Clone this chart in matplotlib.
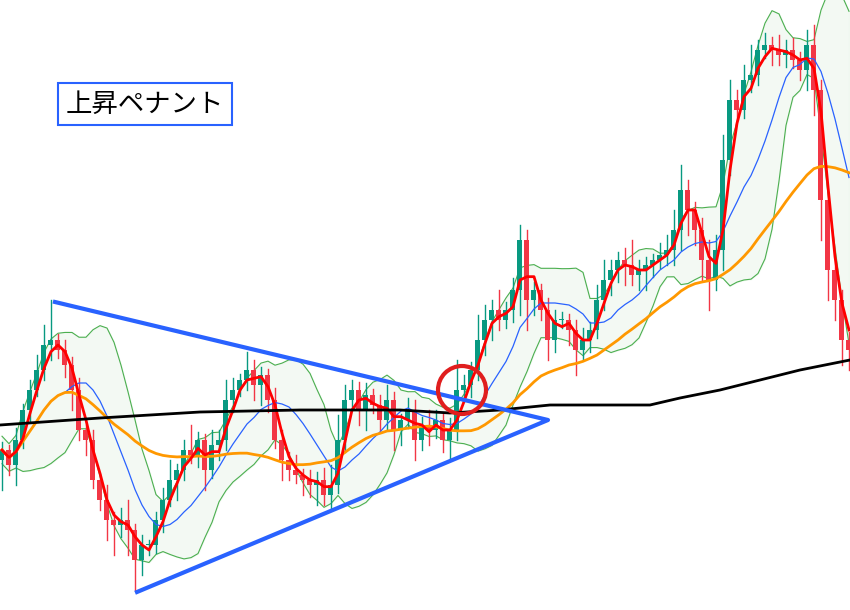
import matplotlib.pyplot as plt
import pandas as pd
from matplotlib.patches import Circle

plt.rcParams['font.family'] = ['Noto Sans CJK JP', 'DejaVu Sans']

# close levels, screen-row units (bigger = lower on screen)
close_rows = [450, 465, 440, 410, 390, 370, 345, 340, 350, 365, 390, 430, 440, 480, 500, 520, 525, 520, 530, 560,
              545, 545, 520, 500, 480, 470, 450, 455, 440, 470, 445, 440, 400, 390, 380, 370, 385, 375, 400, 440,
              460, 470, 475, 480, 485, 480, 495, 485, 440, 400, 390, 410, 395, 405, 420, 400, 430, 420, 410, 440,
              425, 430, 420, 440, 430, 390, 385, 370, 340, 320, 310, 320, 310, 290, 240, 300, 290, 310, 340, 320,
              320, 330, 350, 340, 330, 300, 280, 270, 260, 265, 275, 270, 265, 260, 255, 250, 230, 190, 210, 230,
              260, 280, 250, 160, 100, 110, 80, 75, 50, 45, 50, 55, 50, 60, 70, 45, 90, 200, 270, 300, 340, 350]
wick_up = [8, 5, 12, 6, 10, 15, 20, 40, 6, 10, 8, 12, 5, 10, 6, 15, 8, 12, 20, 6, 10, 5, 8, 12, 20, 6, 10, 25, 8, 6,
           15, 10, 20, 12, 6, 18, 10, 8, 6, 12, 10, 8, 15, 6, 10, 8, 12, 20, 25, 15, 10, 8, 12, 6, 10, 15, 8, 6, 12, 10,
           8, 15, 10, 6, 12, 30, 10, 8, 25, 15, 10, 20, 8, 12, 15, 10, 8, 6, 12, 10, 8, 6, 10, 12, 8, 15, 20, 10, 8, 12,
           25, 10, 8, 6, 12, 15, 20, 25, 10, 8, 12, 20, 15, 25, 20, 10, 15, 30, 10, 12, 8, 15, 10, 12, 8, 15, 20, 10, 8, 12,
           10, 8]
wick_dn = [30, 10, 20, 8, 12, 6, 10, 15, 8, 12, 20, 10, 15, 8, 10, 20, 30, 12, 25, 30, 15, 10, 8, 12, 6, 20, 10, 8, 12, 20,
           8, 15, 10, 12, 6, 10, 15, 20, 12, 8, 20, 10, 8, 15, 12, 20, 10, 15, 8, 12, 10, 15, 20, 8, 12, 10, 20, 15, 8, 20,
           10, 15, 8, 12, 20, 10, 8, 12, 10, 15, 20, 10, 8, 12, 25, 30, 15, 10, 20, 12, 8, 15, 25, 10, 12, 8, 10, 15, 12, 20,
           10, 15, 20, 12, 8, 10, 15, 20, 25, 15, 20, 30, 10, 20, 15, 10, 8, 12, 10, 8, 15, 10, 12, 8, 10, 20, 25, 40, 30, 20,
           25, 20]
black_x = [0, 100, 200, 300, 400, 450, 500, 550, 600, 650, 680, 720, 760, 800, 850]
black_rows = [425, 418, 412, 410, 410, 413, 410, 405, 405, 405, 398, 390, 380, 370, 360]

H = 610
x = [2 + 7 * i for i in range(len(close_rows))]
close = pd.Series([H - r for r in close_rows], dtype=float)
opn = close.shift(1).fillna(close.iloc[0] - 10)
red = close.rolling(3, min_periods=1).mean()
blue = close.rolling(10, min_periods=1).mean()
sd = close.rolling(10, min_periods=2).std().bfill()
upper = blue + 1.3 * sd
lower = blue - 1.3 * sd
orange = close.rolling(30, min_periods=1).mean()

fig = plt.figure(figsize=(8.5, 6.1), dpi=100)
ax = fig.add_axes([0, 0, 1, 1])
ax.set_xlim(0, 850)
ax.set_ylim(0, H)
ax.axis('off')

ax.fill_between(x, lower, upper, color='#e8f5e9', alpha=0.5, zorder=1)
ax.plot(x, upper, color='#4caf50', lw=0.8, zorder=2)
ax.plot(x, lower, color='#4caf50', lw=0.8, zorder=2)

for i in range(len(x)):
    o, c = opn[i], close[i]
    col = '#089981' if c >= o else '#f23645'
    top, bot = max(o, c), min(o, c)
    ax.plot([x[i], x[i]], [bot - wick_dn[i], top + wick_up[i]], color=col, lw=1, zorder=3)
    ax.bar(x[i], max(top - bot, 1), bottom=bot, width=5, color=col, zorder=3)

ax.plot(x, blue, color='#2962ff', lw=0.9, zorder=4)
ax.plot(x, orange, color='#ff9800', lw=2, zorder=4)
ax.plot(x, red, color='#ff0000', lw=2, zorder=5)
ax.plot(black_x, [H - r for r in black_rows], color='black', lw=2, zorder=5)

# pennant
ax.plot([55, 548, 137], [H - 302, H - 420, H - 592], color='#2962ff', lw=3, zorder=6)
ax.add_patch(Circle((462, H - 390), 24, fill=False, ec='#e01e1e', lw=3, zorder=7))
ax.text(66, H - 104, '上昇ペナント', fontsize=19, va='center', ha='left',
        bbox=dict(boxstyle='square,pad=0.3', fc='white', ec='#2962ff', lw=1.5), zorder=8)

fig.savefig('out.png', dpi=100)
